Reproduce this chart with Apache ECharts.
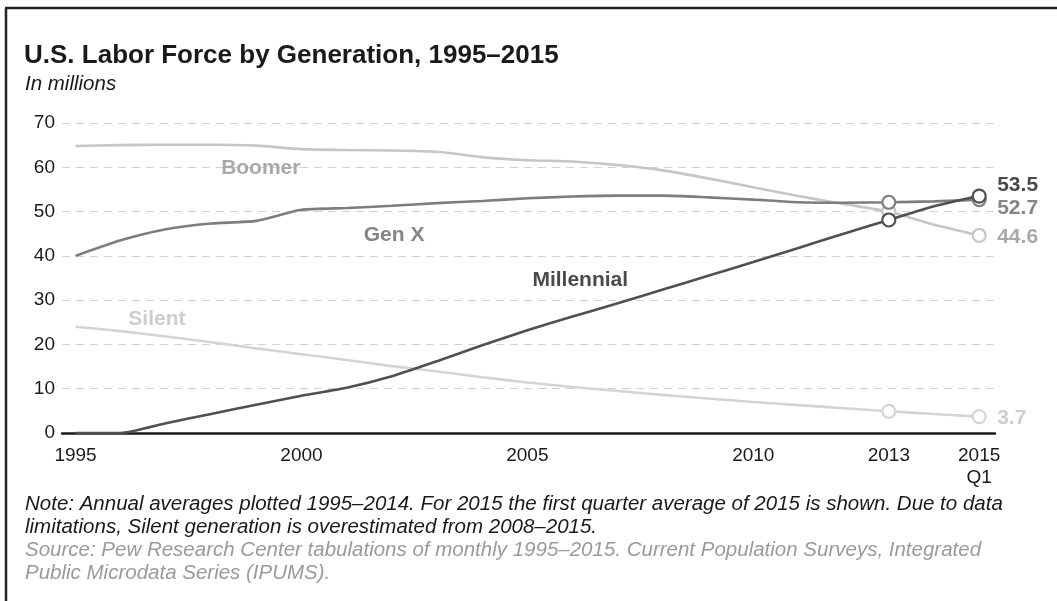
<!DOCTYPE html>
<html>
<head>
<meta charset="utf-8">
<script src="https://cdn.jsdelivr.net/npm/echarts@6/dist/echarts.min.js"></script>
<style>
html,body{margin:0;padding:0;background:#fff;}
#c{width:1057px;height:601px;}
</style>
</head>
<body>
<div id="c"></div>
<script>
var years = [1995,1996,1997,1998,1999,2000,2001,2002,2003,2004,2005,2006,2007,2008,2009,2010,2011,2012,2013,2014,2015];
var boomer = [64.8,65.0,65.1,65.1,64.9,64.1,63.9,63.8,63.5,62.3,61.6,61.3,60.5,59.3,57.5,55.5,53.5,51.7,50.0,47.0,44.6];
var genX = [40.0,43.5,46.0,47.3,47.9,50.4,50.8,51.3,51.9,52.4,53.0,53.4,53.6,53.6,53.2,52.7,52.1,52.0,52.1,52.3,52.7];
var millennial = [0,0,2.2,4.3,6.4,8.4,10.2,12.8,16.2,19.8,23.2,26.3,29.3,32.4,35.5,38.6,41.8,45.0,48.1,51.2,53.5];
var silent = [24.0,23.0,21.8,20.5,19.1,17.8,16.5,15.1,13.9,12.6,11.4,10.4,9.5,8.6,7.8,7.0,6.3,5.6,4.9,4.3,3.7];
var xTickLabels = [1995,2000,2005,2010,2013,2015];
var markedYears = [2013,2015];
var seriesNames = ['Boomer','Gen X','Millennial','Silent'];
var seriesLabelPos = [[1999.1,59.8],[2002.05,44.6],[2006.17,34.5],[1996.8,25.7]];

var lineColors = ['#c6c6c6','#7d7d7d','#505050','#d4d4d4'];
var textColors = ['#a9a9a9','#858585','#4a4a4a','#cdcdcd'];
var endOffsets = [[14,2],[14,9],[14,-11],[14,2]];
var allData = [boomer, genX, millennial, silent];
var ff = 'Liberation Sans, Arial, sans-serif';

function pairs(arr){
  return years.map(function(y,i){
    var marked = markedYears.indexOf(y) >= 0;
    return {value:[y, arr[i]], symbol: marked ? 'circle' : 'none'};
  });
}

var series = allData.map(function(arr, k){
  return {
    type:'line',
    name: seriesNames[k],
    data: pairs(arr),
    smooth: 0.2,
    z: k===2 ? 5 : (k===1 ? 4 : 3),
    symbolSize: 13,
    showAllSymbol: true,
    itemStyle: {color:'#fff', borderColor: lineColors[k], borderWidth: 2.2},
    lineStyle: {color: lineColors[k], width: 2.6},
    emphasis: {disabled:true},
    endLabel: {
      show: true,
      formatter: function(p){ return p.value[1].toFixed(1); },
      color: textColors[k],
      fontFamily: ff,
      fontWeight: 'bold',
      fontSize: 21,
      offset: endOffsets[k],
      distance: 4
    },
    markPoint: {
      symbol: 'circle', symbolSize: 0, silent: true,
      data: [{coord: seriesLabelPos[k], value: seriesNames[k]}],
      label: {show:true, position:'inside', formatter: seriesNames[k], color: textColors[k],
        fontFamily:ff, fontWeight:'bold', fontSize:21}
    }
  };
});

var chart = echarts.init(document.getElementById('c'), null, {renderer:'canvas'});
chart.setOption({
  animation: false,
  backgroundColor: '#fff',
  title: [
    {text:'U.S. Labor Force by Generation, 1995\u20132015', left:19, top:38,
      textStyle:{fontFamily:ff, fontSize:26, fontWeight:'bold', color:'#1a1a1a'}},
    {text:'In millions', left:20, top:69,
      textStyle:{fontFamily:ff, fontSize:20.5, fontStyle:'italic', fontWeight:'normal', color:'#1a1a1a'}},
    {text:'Note: Annual averages plotted 1995\u20132014. For 2015 the first quarter average of 2015 is shown. Due to data\nlimitations, Silent generation is overestimated from 2008\u20132015.', left:20, top:488,
      textStyle:{fontFamily:ff, fontSize:20.5, fontStyle:'italic', fontWeight:'normal', color:'#1a1a1a', lineHeight:23}},
    {text:'Source: Pew Research Center tabulations of monthly 1995\u20132015. Current Population Surveys, Integrated\nPublic Microdata Series (IPUMS).', left:20, top:534,
      textStyle:{fontFamily:ff, fontSize:20.5, fontStyle:'italic', fontWeight:'normal', color:'#9a9a9a', lineHeight:23}}
  ],
  graphic: [
    {type:'line', shape:{x1:5, y1:8, x2:1057, y2:8}, style:{stroke:'#222', lineWidth:2.5}},
    {type:'line', shape:{x1:6, y1:8, x2:6, y2:601}, style:{stroke:'#222', lineWidth:2.5}}
  ],
  grid: {left:62, right:62, top:123, bottom:168, containLabel:false},
  xAxis: {
    type:'value', min:1994.7, max:2015.35,
    splitLine:{show:false},
    axisLine:{show:true, lineStyle:{color:'#1a1a1a', width:2.5}},
    axisTick:{show:false},
    axisLabel:{
      customValues: xTickLabels,
      fontFamily:ff, fontSize:19, color:'#1a1a1a', margin:12, lineHeight:22,
      formatter: function(v){ return v===2015 ? '2015\nQ1' : String(v); }
    }
  },
  yAxis: {
    type:'value', min:0, max:70, interval:10,
    axisLine:{show:false}, axisTick:{show:false},
    axisLabel:{fontFamily:ff, fontSize:19, color:'#1a1a1a', margin:7},
    splitLine:{show:true, lineStyle:{color:'#d2d2d2', type:[8,6], width:1.2}}
  },
  series: series
});
</script>
</body>
</html>
